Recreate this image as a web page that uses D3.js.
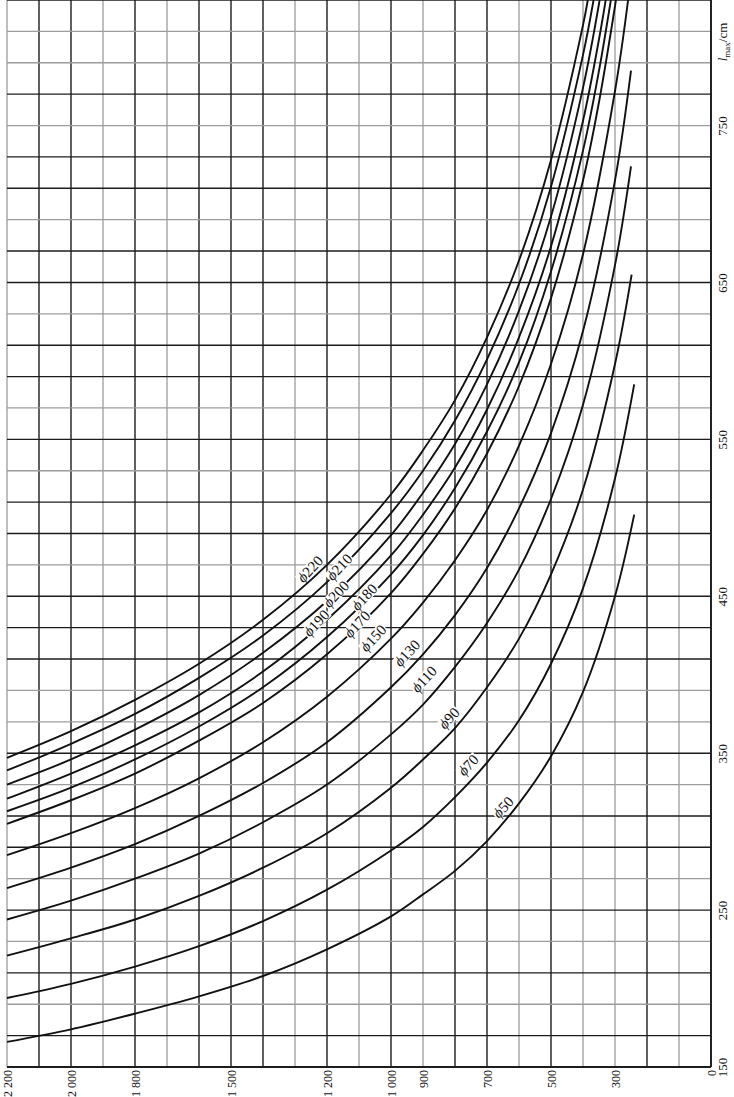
<!DOCTYPE html>
<html><head><meta charset="utf-8">
<script src="https://cdn.jsdelivr.net/npm/d3@7"></script>
<style>body{margin:0;background:#fff}svg{display:block}</style>
</head><body>
<svg id="c" width="734" height="1097"></svg>
<script>
// ---- data ----
const loadTickLabels = [0, 300, 500, 700, 900, 1000, 1200, 1500, 1800, 2000, 2200];
const lengthTickLabels = [150, 250, 350, 450, 550, 650, 750];
const lightLoadLines = [2200, 1900, 1700, 1300, 1100, 900, 600, 400, 300, 100];
const lightLengthLines = [810, 790, 750, 690, 630, 570, 530, 470, 390, 370, 330, 270, 230, 190];
const diameters = [50, 70, 90, 110, 130, 150, 170, 180, 190, 200, 210, 220];

// [l_max (cm), load] pairs
const d50  = [[166,2200],[174,2000],[184,1800],[195,1600],[208,1400],[225,1200],[246,1000],[260,900],[275,800],[294,700],[318,600],[348,500],[389,400],[450,300],[502,240]];
const d70  = [[194,2200],[203,2000],[214,1800],[227,1600],[243,1400],[263,1200],[288,1000],[303,900],[322,800],[344,700],[371,600],[407,500],[455,400],[525,300],[585,240]];
const d90  = [[221,2200],[232,2000],[244,1800],[259,1600],[277,1400],[299,1200],[328,1000],[346,900],[366,800],[392,700],[423,600],[464,500],[518,400],[598,300],[655,248]];
const d110 = [[244,2200],[256,2000],[270,1800],[286,1600],[306,1400],[330,1200],[362,1000],[381,900],[405,800],[433,700],[467,600],[512,500],[572,400],[661,300],[724,250]];
const d130 = [[264,2200],[277,2000],[292,1800],[310,1600],[331,1400],[357,1200],[392,1000],[413,900],[438,800],[468,700],[506,600],[554,500],[619,400],[715,300],[785,250]];
const d150 = [[285,2200],[299,2000],[315,1800],[334,1600],[357,1400],[386,1200],[423,1000],[446,900],[473,800],[505,700],[546,600],[598,500],[668,400],[772,300],[830,259]];
const d170 = [[305,2200],[320,2000],[337,1800],[358,1600],[382,1400],[413,1200],[452,1000],[477,900],[506,800],[541,700],[584,600],[640,500],[715,400],[765,350],[830,297]];
const d180 = [[313,2200],[328,2000],[346,1800],[367,1600],[392,1400],[424,1200],[464,1000],[489,900],[519,800],[555,700],[599,600],[657,500],[734,400],[785,350],[830,313]];
const d190 = [[321,2200],[337,2000],[355,1800],[376,1600],[402,1400],[435,1200],[476,1000],[502,900],[532,800],[569,700],[615,600],[673,500],[753,400],[805,350],[830,329]];
const d200 = [[330,2200],[346,2000],[365,1800],[387,1600],[414,1400],[447,1200],[489,1000],[516,900],[547,800],[585,700],[632,600],[692,500],[774,400],[830,348]];
const d210 = [[339,2200],[356,2000],[375,1800],[398,1600],[425,1400],[459,1200],[503,1000],[530,900],[562,800],[601,700],[649,600],[711,500],[795,400],[830,367]];
const d220 = [[347,2200],[364,2000],[384,1800],[407,1600],[435,1400],[470,1200],[515,1000],[543,900],[575,800],[615,700],[664,600],[728,500],[814,400],[830,385]];
const curves = [d50, d70, d90, d110, d130, d150, d170, d180, d190, d200, d210, d220];

// label anchor in data units [load, l]
const labelLoads   = [650, 759, 819, 897, 950, 1056, 1106, 1084, 1234, 1172, 1162, 1253];
const labelLengths = [315.7, 342.5, 372.4, 397.3, 413.9, 423.4, 432.3, 449.6, 433, 451.5, 468.7, 467.4];

// ---- drawing ----
const svg = d3.select("#c");
svg.append("rect").attr("width", 734).attr("height", 1097).attr("fill", "#fff");

const x = d3.scaleLinear().domain([0, 2200]).range([711, 7]);
const y = d3.scaleLinear().domain([150, 830]).range([1067, 0]);

const loadGrid = d3.range(0, 2201, 100);
const lenGrid = d3.range(150, 831, 20);
const dark = "#1c1c1c", light = "#9c9c9c";

const grid = svg.append("g");
grid.selectAll("line.v").data(loadGrid).join("line").attr("class", "v")
  .attr("x1", d => x(d)).attr("x2", d => x(d)).attr("y1", y(830)).attr("y2", y(150))
  .attr("stroke", d => lightLoadLines.includes(d) ? light : dark)
  .attr("stroke-width", d => lightLoadLines.includes(d) ? 1.3 : 1.4);
grid.selectAll("line.h").data(lenGrid).join("line").attr("class", "h")
  .attr("y1", d => y(d)).attr("y2", d => y(d)).attr("x1", x(2200)).attr("x2", x(0))
  .attr("stroke", d => lightLengthLines.includes(d) ? light : dark)
  .attr("stroke-width", d => lightLengthLines.includes(d) ? 1.3 : 1.4);
svg.append("line").attr("x1", x(0)).attr("x2", x(0)).attr("y1", y(830)).attr("y2", y(150)).attr("stroke", dark).attr("stroke-width", 1.8);
svg.append("line").attr("x1", x(2200)).attr("x2", x(0)).attr("y1", y(150)).attr("y2", y(150)).attr("stroke", dark).attr("stroke-width", 1.8);

// curves
const line = d3.line().x(d => x(d[1])).y(d => y(d[0])).curve(d3.curveCatmullRom.alpha(0.5));
svg.append("g").selectAll("path").data(curves).join("path")
  .attr("d", line).attr("fill", "none").attr("stroke", "#111").attr("stroke-width", 1.9);

// curve labels
const lab = svg.append("g").attr("font-family", "'Liberation Serif', serif").attr("font-size", 15).attr("fill", "#111");
diameters.forEach((dia, i) => {
  const g = lab.append("g").attr("transform", `translate(${x(labelLoads[i])},${y(labelLengths[i])}) rotate(-47)`);
  const t = g.append("text").attr("text-anchor", "middle").attr("dy", "0.35em");
  t.append("tspan").attr("font-style", "italic").text("ϕ");
  t.append("tspan").text(dia);
  const bb = t.node().getBBox();
  g.insert("rect", "text").attr("x", bb.x - 1).attr("y", bb.y + 2).attr("width", bb.width + 2).attr("height", bb.height - 4).attr("fill", "#fff");
});

// load axis (bottom, rotated labels)
const fmt = d => d >= 1000 ? (Math.floor(d / 1000) + " " + String(d % 1000).padStart(3, "0")) : String(d);
const ax = svg.append("g").attr("transform", `translate(0,${y(150)})`)
  .call(d3.axisBottom(x).tickValues(loadTickLabels).tickFormat(fmt).tickSize(0));
ax.select(".domain").remove();
ax.selectAll("text").attr("font-family", "'Liberation Serif', serif").attr("font-size", 12).attr("fill", "#111")
  .attr("transform", "rotate(-90)").attr("text-anchor", "end").attr("x", -3).attr("y", 0).attr("dy", "0.35em");

// length axis (right, rotated labels)
const ay = svg.append("g").attr("transform", `translate(${x(0)},0)`)
  .call(d3.axisRight(y).tickValues(lengthTickLabels).tickSize(0));
ay.select(".domain").remove();
ay.selectAll("text").attr("font-family", "'Liberation Serif', serif").attr("font-size", 13).attr("fill", "#111")
  .attr("transform", "rotate(-90)").attr("text-anchor", "middle").attr("x", 0).attr("y", 16).attr("dy", 0);

// axis title
const tt = svg.append("text").attr("transform", `translate(${x(0) + 16},${42}) rotate(-90)`)
  .attr("text-anchor", "middle").attr("font-family", "'Liberation Serif', serif").attr("font-size", 13).attr("fill", "#111");
tt.append("tspan").attr("font-style", "italic").text("l");
tt.append("tspan").attr("font-size", 9).attr("dy", 3).text("max");
tt.append("tspan").attr("dy", -3).text("/cm");
</script>
</body></html>
